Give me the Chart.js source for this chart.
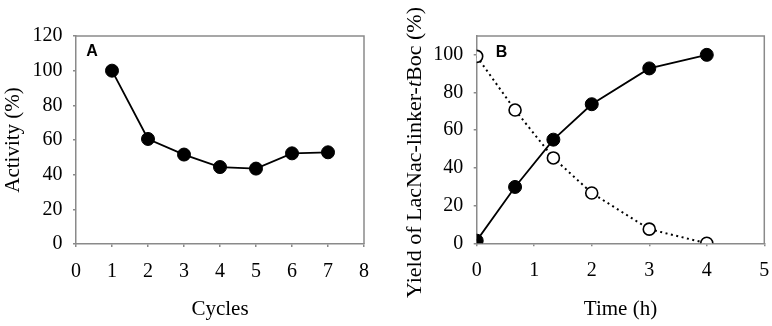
<!DOCTYPE html>
<html>
<head>
<meta charset="utf-8">
<script src="https://cdn.jsdelivr.net/npm/chart.js@4/dist/chart.umd.min.js"></script>
<style>
  html, body { margin: 0; padding: 0; background: #fff; }
  #wrap { position: relative; width: 772px; height: 326px; }
  #chartA { position: absolute; left: 0; top: 0; }
  #chartB { position: absolute; left: 390px; top: 0; }
</style>
</head>
<body>
<div id="wrap">
  <canvas id="chartA" width="390" height="326"></canvas>
  <canvas id="chartB" width="382" height="326"></canvas>
</div>
<script>
// ---- Data: panel A ----
const cyclesA = [1, 2, 3, 4, 5, 6, 7];
const activityA = [100, 60.6, 51.6, 44.4, 43.5, 52.3, 52.9];
const xTicksA = [0, 1, 2, 3, 4, 5, 6, 7, 8];
const yTicksA = [0, 20, 40, 60, 80, 100, 120];

// ---- Data: panel B ----
const timeB = [0, 0.667, 1.333, 2, 3, 4];
const productB = [1.4, 29.9, 55.0, 73.8, 92.8, 100];
const substrateB = [99.2, 70.7, 45.3, 26.7, 7.5, 0];
const xTicksB = [0, 1, 2, 3, 4, 5];
const yTicksB = [0, 20, 40, 60, 80, 100];

const SERIF = '"Liberation Serif", "Times New Roman", serif';
const SANS = '"Liberation Sans", Arial, sans-serif';
const AXIS = '#8a8a8a';

const frame = {
  id: 'frame',
  afterDraw(chart, args, opts) {
    const {ctx, chartArea: a} = chart;
    ctx.save();
    ctx.strokeStyle = AXIS;
    ctx.lineWidth = 1.5;
    ctx.beginPath();
    ctx.moveTo(a.left, a.top);
    ctx.lineTo(a.right, a.top);
    ctx.lineTo(a.right, a.bottom);
    ctx.stroke();
    ctx.fillStyle = '#000';
    ctx.font = 'bold 16px ' + SANS;
    ctx.textAlign = 'center';
    ctx.textBaseline = 'middle';
    ctx.fillText(opts.letter, opts.lx, opts.ly);
    ctx.restore();
  }
};

const yTitleB = {
  id: 'yTitleB',
  afterDraw(chart, args, opts) {
    if (!opts.enabled) return;
    const ctx = chart.ctx;
    const parts = [
      {t: 'Yield of LacNac-linker-', f: '22px ' + SERIF},
      {t: 't', f: 'italic 22px ' + SERIF},
      {t: 'Boc (%)', f: '22px ' + SERIF}
    ];
    ctx.save();
    let total = 0;
    parts.forEach(p => { ctx.font = p.f; p.w = ctx.measureText(p.t).width; total += p.w; });
    ctx.translate(opts.cx, opts.cy);
    ctx.rotate(-Math.PI / 2);
    ctx.fillStyle = '#000';
    ctx.textBaseline = 'middle';
    ctx.textAlign = 'left';
    let x = -total / 2;
    parts.forEach(p => { ctx.font = p.f; ctx.fillText(p.t, x, 0); x += p.w; });
    ctx.restore();
  }
};

function axis(opts) {
  return Object.assign({
    type: 'linear',
    grid: { drawOnChartArea: false, color: AXIS, tickLength: 3, lineWidth: 1.5 },
    border: { color: AXIS, width: 1.5 },
  }, opts);
}

new Chart(document.getElementById('chartA'), {
  type: 'line',
  data: {
    datasets: [{
      data: cyclesA.map((x, i) => ({x: x, y: activityA[i]})),
      borderColor: '#000', borderWidth: 1.8,
      pointRadius: 6.5, pointBackgroundColor: '#000', pointBorderColor: '#000', pointBorderWidth: 1,
      tension: 0
    }]
  },
  options: {
    responsive: false, animation: false,
    devicePixelRatio: 1,
    layout: { padding: { left: 0, top: 36, right: 26, bottom: 0 } },
    plugins: { legend: { display: false }, tooltip: { enabled: false },
      frame: { letter: 'A', lx: 92, ly: 52 }, yTitleB: { enabled: false } },
    scales: {
      x: axis({
        min: 0, max: 8,
        afterBuildTicks: s => { s.ticks = xTicksA.map(v => ({value: v})); },
        afterFit: s => { s.height = 326 - 244; s.paddingLeft = 0; s.paddingRight = 0; },
        ticks: { color: '#000', font: { family: SERIF, size: 20 }, padding: 12.5, maxRotation: 0 },
        title: { display: true, text: 'Cycles', color: '#000', font: { family: SERIF, size: 21 }, padding: { top: 0, bottom: 4.4 } }
      }),
      y: axis({
        min: 0, max: 120,
        afterBuildTicks: s => { s.ticks = yTicksA.map(v => ({value: v})); },
        afterFit: s => { s.width = 76; s.paddingTop = 0; s.paddingBottom = 0; },
        ticks: { color: '#000', font: { family: SERIF, size: 20 }, padding: 10.5 },
        title: { display: true, text: 'Activity (%)', color: '#000', font: { family: SERIF, size: 21 }, padding: { top: 1, bottom: 0 } }
      })
    }
  },
  plugins: [frame, yTitleB]
});

new Chart(document.getElementById('chartB'), {
  type: 'line',
  data: {
    datasets: [{
      data: timeB.map((x, i) => ({x: x, y: substrateB[i]})),
      borderColor: '#000', borderWidth: 2, borderDash: [2, 3.5],
      pointRadius: 6, pointBackgroundColor: '#fff', pointBorderColor: '#000', pointBorderWidth: 1.6,
      tension: 0
    }, {
      data: timeB.map((x, i) => ({x: x, y: productB[i]})),
      borderColor: '#000', borderWidth: 1.8,
      pointRadius: 6.5, pointBackgroundColor: '#000', pointBorderColor: '#000', pointBorderWidth: 1,
      tension: 0
    }]
  },
  options: {
    responsive: false, animation: false,
    devicePixelRatio: 1,
    layout: { padding: { left: 0, top: 36, right: 7.7, bottom: 0 } },
    plugins: { legend: { display: false }, tooltip: { enabled: false },
      frame: { letter: 'B', lx: 111.5, ly: 52.5 }, yTitleB: { enabled: true, cx: 25, cy: 152.5 } },
    scales: {
      x: axis({
        min: 0, max: 5,
        afterBuildTicks: s => { s.ticks = xTicksB.map(v => ({value: v})); },
        afterFit: s => { s.height = 326 - 243.3; s.paddingLeft = 0; s.paddingRight = 0; },
        ticks: { color: '#000', font: { family: SERIF, size: 20 }, padding: 12.5, maxRotation: 0 },
        title: { display: true, text: 'Time (h)', color: '#000', font: { family: SERIF, size: 21 }, padding: { top: 0, bottom: 4.4 } }
      }),
      y: axis({
        min: 0, max: 110,
        afterBuildTicks: s => { s.ticks = yTicksB.map(v => ({value: v})); },
        afterFit: s => { s.width = 86.7; s.paddingTop = 0; s.paddingBottom = 0; },
        ticks: { color: '#000', font: { family: SERIF, size: 20 }, padding: 10.5 },
        title: { display: false }
      })
    }
  },
  plugins: [frame, yTitleB]
});
</script>
</body>
</html>
